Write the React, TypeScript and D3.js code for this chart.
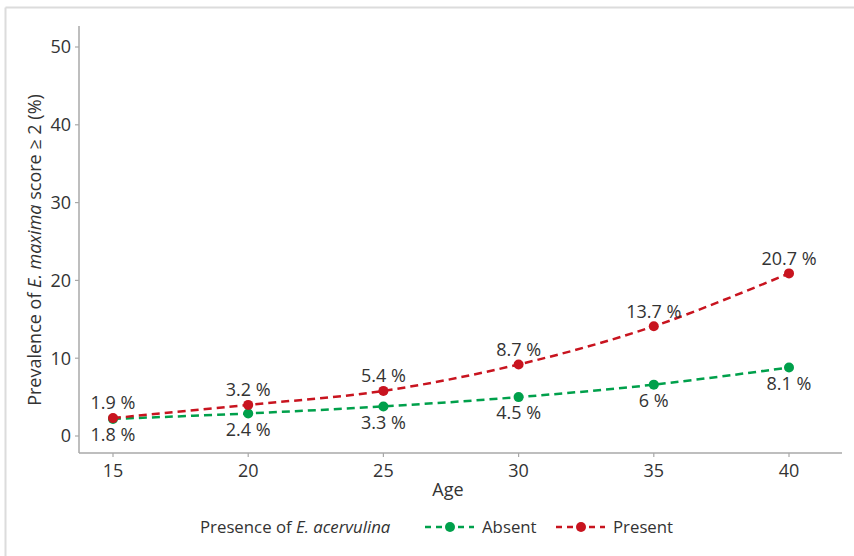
import React from "react";
import * as d3 from "d3";

const ages = [15, 20, 25, 30, 35, 40];
const presentValues = [2.3, 4.0, 5.8, 9.2, 14.1, 20.9];
const absentValues = [2.2, 2.9, 3.8, 5.0, 6.6, 8.8];
const presentLabels = ["1.9 %", "3.2 %", "5.4 %", "8.7 %", "13.7 %", "20.7 %"];
const absentLabels = ["1.8 %", "2.4 %", "3.3 %", "4.5 %", "6 %", "8.1 %"];
const yTicks = [0, 10, 20, 30, 40, 50];
const xTicks = [15, 20, 25, 30, 35, 40];

const W = 854;
const H = 556;
const RED = "#c8141f";
const GREEN = "#00a04b";
const TEXT = "#333333";
const AXIS = "#a8a8a8";
const FONT = "'Open Sans', 'Noto Sans', sans-serif";
const FS = 18;
const LFS = 16.8;

export default function App() {
  const x = d3.scaleLinear().domain([15, 40]).range([113, 789]);
  const y = d3.scaleLinear().domain([0, 50]).range([436, 47]);
  const xMin = x.invert(79);
  const xMax = x.invert(842);
  const yMin = y.invert(453);
  const yMax = y.invert(26);

  const line = d3
    .line<[number, number]>()
    .x((d) => x(d[0]))
    .y((d) => y(d[1]))
    .curve(d3.curveCatmullRom.alpha(0.5));

  const series = [
    { name: "Absent", values: absentValues, labels: absentLabels, color: GREEN, dy: 16 },
    { name: "Present", values: presentValues, labels: presentLabels, color: RED, dy: -15 },
  ];

  return (
    <svg
      width={W}
      height={H}
      style={{ position: "absolute", left: 0, top: 0, background: "#fff" }}
      fontFamily={FONT}
    >
      {/* frame */}
      <line x1={5.5} x2={5.5} y1={7.5} y2={H} stroke="#dcdcdc" strokeWidth={2} />
      <line x1={5.5} x2={W} y1={7.5} y2={7.5} stroke="#dcdcdc" strokeWidth={2} />

      {/* axes */}
      <line x1={x(xMin)} x2={x(xMin)} y1={y(yMin)} y2={y(yMax)} stroke={AXIS} strokeWidth={1.5} />
      <line x1={x(xMin)} x2={x(xMax)} y1={y(yMin)} y2={y(yMin)} stroke={AXIS} strokeWidth={1.5} />
      {yTicks.map((t) => (
        <g key={"y" + t}>
          <line x1={x(xMin) - 4} x2={x(xMin)} y1={y(t)} y2={y(t)} stroke={AXIS} strokeWidth={1.2} />
          <text x={x(xMin) - 8} y={y(t)} dy="0.35em" textAnchor="end" fontSize={FS} fill={TEXT}>
            {t}
          </text>
        </g>
      ))}
      {xTicks.map((t) => (
        <g key={"x" + t}>
          <line x1={x(t)} x2={x(t)} y1={y(yMin)} y2={y(yMin) + 4} stroke={AXIS} strokeWidth={1.2} />
          <text x={x(t)} y={y(yMin) + 18} dy="0.35em" textAnchor="middle" fontSize={FS} fill={TEXT}>
            {t}
          </text>
        </g>
      ))}
      <text x={448} y={490} dy="0.35em" textAnchor="middle" fontSize={FS} fill={TEXT}>
        Age
      </text>
      <text
        transform={`translate(35,250) rotate(-90)`}
        dy="0.35em"
        textAnchor="middle"
        fontSize={FS}
        fill={TEXT}
      >
        Prevalence of <tspan fontStyle="italic">E. maxima</tspan> score ≥ 2 (%)
      </text>

      {/* series */}
      {series.map((s) => {
        const pts: [number, number][] = ages.map((a, i) => [a, s.values[i]]);
        return (
          <g key={s.name}>
            <path d={line(pts) || ""} fill="none" stroke={s.color} strokeWidth={2.5} strokeDasharray="8,5" />
            {pts.map((p, i) => (
              <circle key={i} cx={x(p[0])} cy={y(p[1])} r={5} fill={s.color} />
            ))}
          </g>
        );
      })}
      {series.map((s) =>
        ages.map((a, i) => (
          <text
            key={s.name + i}
            x={x(a)}
            y={y(s.values[i]) + s.dy}
            dy="0.35em"
            textAnchor="middle"
            fontSize={FS}
            fill={TEXT}
          >
            {s.labels[i]}
          </text>
        ))
      )}

      {/* legend */}
      <text x={200} y={527} dy="0.35em" fontSize={LFS} fill={TEXT}>
        Presence of <tspan fontStyle="italic">E. acervulina</tspan>
      </text>
      {series.map((s, i) => {
        const x0 = i === 0 ? 425 : 556;
        return (
          <g key={"lg" + s.name}>
            <line x1={x0} x2={x0 + 49} y1={527} y2={527} stroke={s.color} strokeWidth={2.5} strokeDasharray="6,5" />
            <circle cx={x0 + 25} cy={527} r={5} fill={s.color} />
            <text x={x0 + 57} y={527} dy="0.35em" fontSize={LFS} fill={TEXT}>
              {s.name}
            </text>
          </g>
        );
      })}
    </svg>
  );
}
